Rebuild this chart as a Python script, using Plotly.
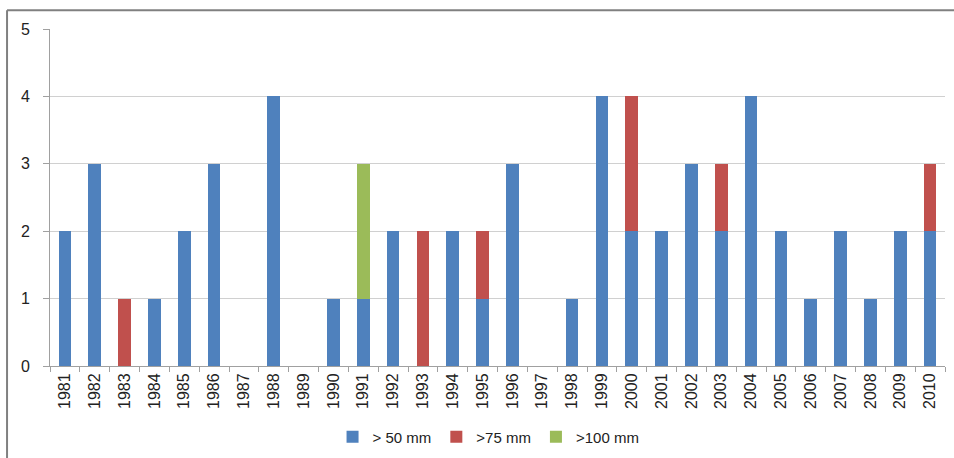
import plotly.graph_objects as go

years = [str(y) for y in range(1981, 2011)]
over_50 = [2, 3, 0, 1, 2, 3, 0, 4, 0, 1, 1, 2, 0, 2, 1, 3, 0, 1, 4, 2,
           2, 3, 2, 4, 2, 1, 2, 1, 2, 2]
over_75 = [0, 0, 1, 0, 0, 0, 0, 0, 0, 0, 0, 0, 2, 0, 1, 0, 0, 0, 0, 2,
           0, 0, 1, 0, 0, 0, 0, 0, 0, 1]
over_100 = [0, 0, 0, 0, 0, 0, 0, 0, 0, 0, 2, 0, 0, 0, 0, 0, 0, 0, 0, 0,
            0, 0, 0, 0, 0, 0, 0, 0, 0, 0]

series = [
    ("> 50 mm", over_50, "#4F81BD"),
    (">75 mm", over_75, "#C0504D"),
    (">100 mm", over_100, "#9BBB59"),
]

fig = go.Figure()
for name, vals, color in series:
    fig.add_trace(go.Bar(x=years, y=vals, name=name, marker_color=color,
                         marker_line_width=0))

fig.update_layout(
    barmode="stack",
    bargap=0.58,
    width=954, height=458,
    margin=dict(l=50, r=9, t=29, b=92, autoexpand=False),
    paper_bgcolor="white", plot_bgcolor="white",
    font=dict(family="Liberation Sans, Arial, sans-serif", size=15, color="#222222"),
    showlegend=True,
    legend=dict(orientation="h", x=0.49, xanchor="center",
                yref="container", y=0.046, yanchor="middle",
                font=dict(size=15), itemwidth=30, traceorder="normal"),
    xaxis=dict(type="category", tickangle=-90, showgrid=False, automargin=False,
               showline=True, linecolor="#A0A0A0", linewidth=1,
               ticks="outside", tickson="boundaries", ticklen=5, tickcolor="#A0A0A0",
               tickfont=dict(size=16)),
    yaxis=dict(range=[0, 5], dtick=1, showgrid=True, gridcolor="#D0D0D0",
               showline=True, linecolor="#A0A0A0", linewidth=1, automargin=False,
               ticks="outside", ticklen=6, tickcolor="#A0A0A0",
               ticklabelstandoff=10,
               zeroline=False, tickfont=dict(size=16)),
    shapes=[
        dict(type="line", xref="paper", yref="paper", x0=-0.048, x1=1.02,
             y0=1.056, y1=1.056, line=dict(color="#808080", width=2)),
        dict(type="line", xref="paper", yref="paper", x0=-0.048, x1=-0.048,
             y0=1.056, y1=-0.3, line=dict(color="#808080", width=2)),
    ],
)

fig.write_html("out.html")
